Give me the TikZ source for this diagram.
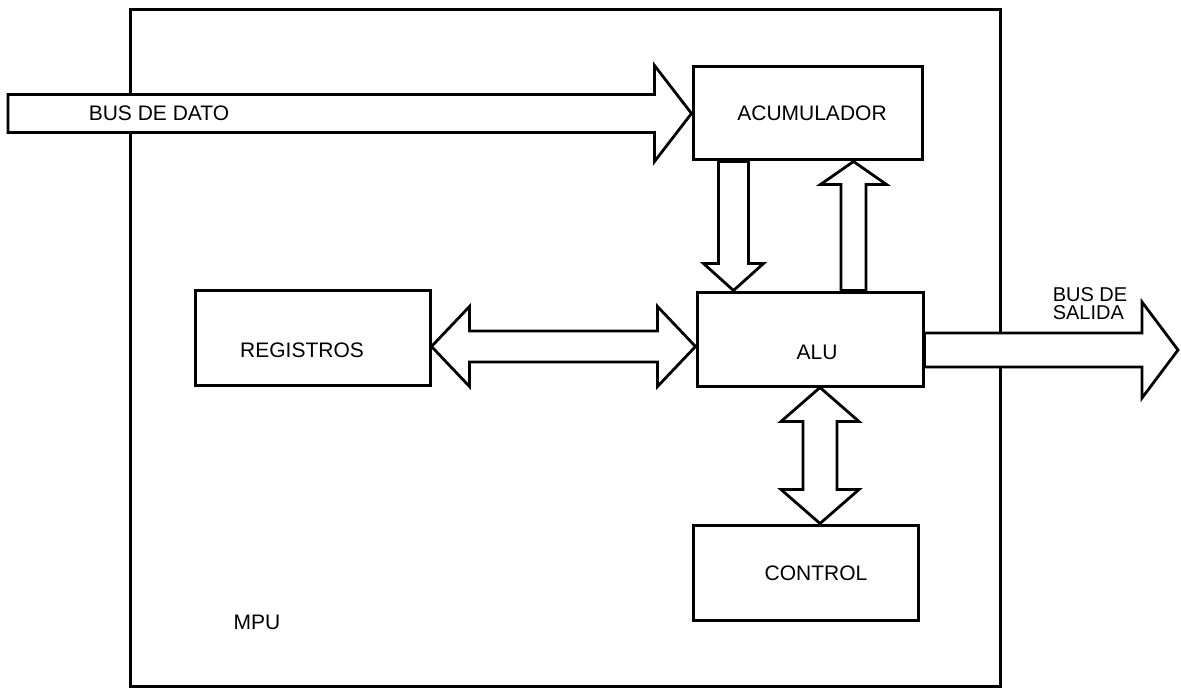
\documentclass[tikz,border=0pt]{standalone}
\usepackage{fontspec}
\setmainfont{Liberation Sans}
\usepackage{tikz}
\usetikzlibrary{calc}

% wide hollow bus arrow: from #1 to #2, shaft half width #3, head half width #4, head length #5
\newcommand{\fatbus}[5]{%
  \coordinate (hb) at ($(#2)!#5!(#1)$);
  \draw[busline] ($(#1)!#3!90:(#2)$) -- ($(hb)!#3!90:(#2)$) -- ($(hb)!#4!90:(#2)$) -- (#2)
    -- ($(hb)!#4!-90:(#2)$) -- ($(hb)!#3!-90:(#2)$) -- ($(#1)!#3!-90:(#2)$) -- cycle;}
% same, with a head at both ends
\newcommand{\fatbusboth}[5]{%
  \coordinate (ha) at ($(#1)!#5!(#2)$);
  \coordinate (hb) at ($(#2)!#5!(#1)$);
  \draw[busline] (#1) -- ($(ha)!#4!90:(#2)$) -- ($(ha)!#3!90:(#2)$) -- ($(hb)!#3!90:(#2)$)
    -- ($(hb)!#4!90:(#2)$) -- (#2) -- ($(hb)!#4!-90:(#2)$) -- ($(hb)!#3!-90:(#2)$)
    -- ($(ha)!#3!-90:(#2)$) -- ($(ha)!#4!-90:(#2)$) -- cycle;}

\begin{document}
\begin{tikzpicture}[x=1pt,y=-1pt,
    box/.style={draw,line width=3pt,inner sep=0pt},
    busline/.style={draw,fill=white,line width=2.8pt,line join=miter},
    lbl/.style={inner sep=0pt,font=\fontsize{21}{25}\selectfont}]
    \useasboundingbox (0,0) rectangle (1181,690);
    \node[box,minimum width=870pt,minimum height=676pt] (mpu) at (565,348) {};
    \node[box,minimum width=229pt,minimum height=93pt] (acu) at (807.5,113.5) {};
    \node[box,minimum width=226pt,minimum height=94pt] (alu) at (810,339) {};
    \node[box,minimum width=235pt,minimum height=95pt] (reg) at (312.5,337.5) {};
    \node[box,minimum width=225pt,minimum height=95pt] (ctrl) at (805.5,572.5) {};
    % bus end points
    \coordinate (datain) at (8,113.5);
    \coordinate (dntop) at ([xshift=42pt]acu.south west);
    \coordinate (dnbot) at ([xshift=38pt]alu.north west);
    \coordinate (uptop) at ([xshift=162pt]acu.south west);
    \coordinate (upbot) at ([xshift=158pt]alu.north west);
    \coordinate (regport) at ([yshift=-9pt]reg.east);
    \coordinate (aluport) at ([yshift=-7.5pt]alu.west);
    \coordinate (alubot) at ([xshift=10pt]alu.south);
    \coordinate (ctrltop) at ([xshift=14.5pt]ctrl.north);
    \coordinate (aluout) at ([yshift=-11pt]alu.east);
    \coordinate (busout) at (1178,350);
    \fatbus{datain}{acu.west}{19pt}{48pt}{37pt}
    \fatbus{dntop}{dnbot}{15pt}{30pt}{27pt}
    \fatbus{upbot}{uptop}{12.5pt}{33pt}{23pt}
    \fatbusboth{regport}{aluport}{15.5pt}{40pt}{38pt}
    \fatbusboth{alubot}{ctrltop}{17pt}{39pt}{34pt}
    \fatbus{aluout}{busout}{17pt}{48pt}{36pt}
    % labels
    \node[lbl] (datatxt) at (159,113) {BUS DE DATO};
    \node[lbl] (acutxt) at (812,113) {ACUMULADOR};
    \node[lbl] (alutxt) at (817,352) {ALU};
    \node[lbl] (regtxt) at (302,350) {REGISTROS};
    \node[lbl] (ctrltxt) at (816,573) {CONTROL};
    \node[lbl] (mputxt) at (257,622) {MPU};
    \node[lbl,align=left,font=\fontsize{20}{18}\selectfont] (salidatxt) at (1090,304) {BUS DE\\SALIDA};
\end{tikzpicture}
\end{document}
